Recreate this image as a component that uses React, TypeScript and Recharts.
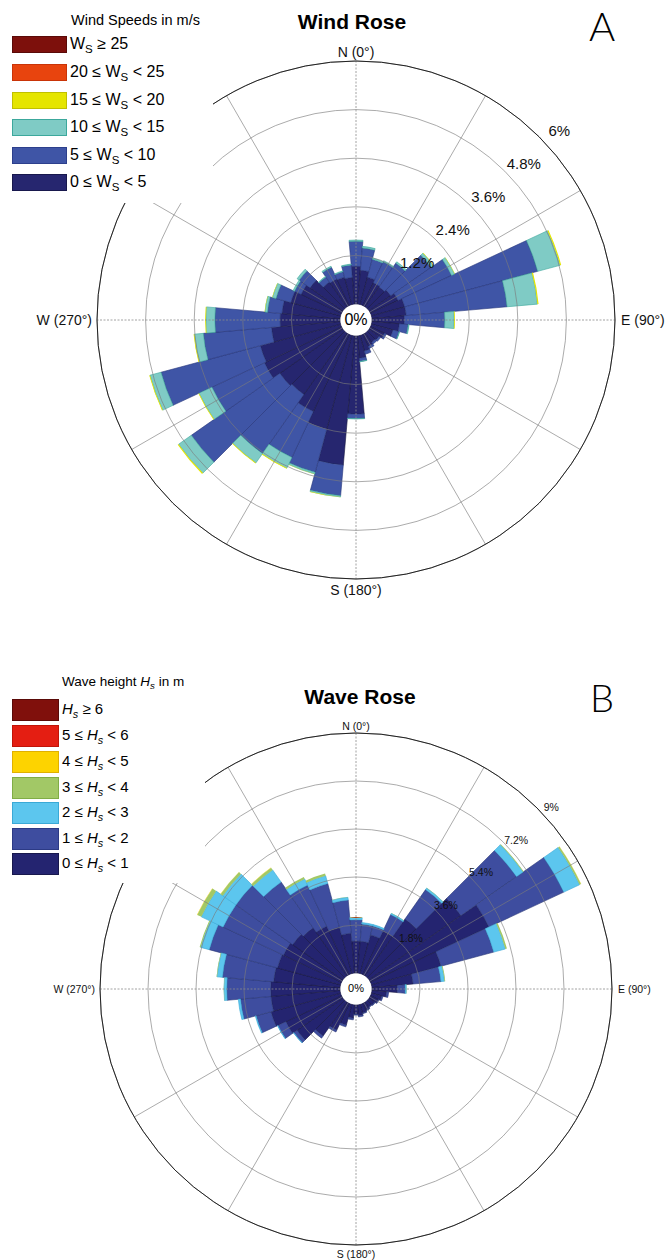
import React from 'react';
import { RadialBarChart, RadialBar, PolarAngleAxis, PolarRadiusAxis, PolarGrid, Cell } from 'recharts';

// sector centres, degrees clockwise from north
const DIRECTIONS = [0, 10, 20, 30, 40, 50, 60, 70, 80, 90, 100, 110, 120, 130, 140, 150, 160, 170,
  180, 190, 200, 210, 220, 230, 240, 250, 260, 270, 280, 290, 300, 310, 320, 330, 340, 350];

// wind rose, % of records per sector and speed class
const WIND_0_5 = [0.93, 0.84, 0.70, 0.62, 0.60, 0.65, 0.75, 0.85, 0.85, 0.80, 0.68, 0.55, 0.38, 0.30, 0.28, 0.32, 0.40, 0.55,
  1.93, 3.20, 2.40, 2.10, 1.85, 1.90, 2.10, 2.05, 1.70, 1.48, 1.44, 1.27, 1.10, 0.99, 0.75, 0.72, 0.70, 0.66];
const WIND_5_10 = [0.62, 0.55, 0.46, 0.57, 0.72, 1.22, 1.46, 3.40, 2.50, 1.00, 0.22, 0.16, 0.05, 0.05, 0.05, 0.06, 0.08, 0.08,
  0.11, 0.76, 1.10, 1.25, 1.78, 2.67, 1.43, 2.54, 1.69, 1.61, 0.36, 0.38, 0.18, 0.33, 0.15, 0.32, 0.14, 0.31];
const WIND_10_15 = [0.03, 0.04, 0.03, 0.03, 0.04, 0.07, 0.08, 0.57, 0.75, 0.23, 0.02, 0.01, 0, 0, 0, 0, 0, 0.01,
  0.01, 0.03, 0.04, 0.29, 0.28, 0.38, 0.35, 0.28, 0.22, 0.22, 0.06, 0.09, 0.04, 0.06, 0.02, 0.03, 0.02, 0.02];
const WIND_15_20 = [0, 0, 0, 0, 0, 0.01, 0.01, 0.03, 0.03, 0.02, 0, 0, 0, 0, 0, 0, 0, 0,
  0, 0.01, 0.01, 0.02, 0.02, 0.03, 0.02, 0.02, 0.02, 0.02, 0.01, 0.01, 0, 0, 0, 0, 0, 0];
const WIND_20_25 = [0, 0, 0, 0, 0, 0, 0, 0, 0, 0, 0, 0, 0, 0, 0, 0, 0, 0,
  0, 0, 0, 0, 0, 0, 0, 0, 0, 0, 0, 0, 0, 0, 0, 0, 0, 0];
const WIND_25_UP = [0, 0, 0, 0, 0, 0, 0, 0, 0, 0, 0, 0, 0, 0, 0, 0, 0, 0,
  0, 0, 0, 0, 0, 0, 0, 0, 0, 0, 0, 0, 0, 0, 0, 0, 0, 0];

// wave rose, % of records per sector and height class
const WAVE_0_1 = [1.20, 1.20, 1.50, 1.80, 2.60, 4.20, 4.90, 2.70, 1.55, 0.95, 0.55, 0.40, 0.32, 0.25, 0.22, 0.28, 0.33, 0.40,
  0.35, 0.50, 0.80, 1.10, 1.55, 2.10, 2.30, 2.70, 2.60, 2.60, 2.50, 2.45, 2.40, 2.30, 2.20, 2.00, 1.80, 1.50];
const WAVE_1_2 = [0.80, 0.65, 0.35, 0.68, 1.35, 2.55, 3.10, 2.05, 1.05, 0.30, 0.08, 0.05, 0.03, 0.03, 0.03, 0.02, 0.03, 0.05,
  0.03, 0.06, 0.07, 0.08, 0.10, 0.15, 0.33, 0.58, 1.15, 1.65, 1.93, 2.65, 2.50, 2.60, 2.10, 1.70, 1.70, 1.25];
const WAVE_2_3 = [0.08, 0.05, 0.05, 0.05, 0.07, 0.30, 0.65, 0.45, 0.13, 0.04, 0, 0, 0, 0, 0, 0, 0, 0,
  0, 0, 0, 0, 0, 0.01, 0.02, 0.03, 0.08, 0.10, 0.20, 0.33, 0.90, 0.60, 0.55, 0.25, 0.30, 0.10];
const WAVE_3_4 = [0.02, 0, 0, 0.01, 0.01, 0.03, 0.06, 0.06, 0.03, 0.01, 0, 0, 0, 0, 0, 0, 0, 0,
  0, 0, 0, 0, 0, 0, 0, 0, 0, 0.01, 0.02, 0.04, 0.17, 0.10, 0.10, 0.08, 0.08, 0.01];
const WAVE_4_5 = [0, 0, 0, 0, 0, 0, 0.01, 0, 0, 0, 0, 0, 0, 0, 0, 0, 0, 0,
  0, 0, 0, 0, 0, 0, 0, 0, 0, 0, 0, 0, 0.01, 0.01, 0.01, 0, 0, 0];
const WAVE_5_6 = [0, 0, 0, 0, 0, 0, 0, 0, 0, 0, 0, 0, 0, 0, 0, 0, 0, 0,
  0, 0, 0, 0, 0, 0, 0, 0, 0, 0, 0, 0, 0, 0, 0, 0, 0, 0];
const WAVE_6_UP = [0, 0, 0, 0, 0, 0, 0, 0, 0, 0, 0, 0, 0, 0, 0, 0, 0, 0,
  0, 0, 0, 0, 0, 0, 0, 0, 0, 0, 0, 0, 0, 0, 0, 0, 0, 0];

const WIND_TICKS = [1.2, 2.4, 3.6, 4.8, 6];
const WAVE_TICKS = [1.8, 3.6, 5.4, 7.2, 9];

const SPOKES = [30, 60, 120, 150, 210, 240, 300, 330];
const CARDINALS = [0, 90, 180, 270];
const CARDINAL_LABELS: Record<number, string> = { 0: 'N (0°)', 90: 'E (90°)', 180: 'S (180°)', 270: 'W (270°)' };

const FONT = '"Liberation Sans", Arial, Helvetica, sans-serif';
const CX = 356;
const HOLE = 16;
const RING_ANGLE = 43; // recharts degrees, i.e. 47° compass
// first band is drawn from startAngle counter-clockwise, so start half a sector east of north
const START = 85;
const END = START - 360;

const windSeries = [
  { key: 'w0', values: WIND_0_5, color: '#26266f', stroke: '#15153f' },
  { key: 'w1', values: WIND_5_10, color: '#3f55a6', stroke: '#26357a' },
  { key: 'w2', values: WIND_10_15, color: '#7fcbc5', stroke: '#3ca89c' },
  { key: 'w3', values: WIND_15_20, color: '#e5e500', stroke: 'none' },
  { key: 'w4', values: WIND_20_25, color: '#e8440e', stroke: 'none' },
  { key: 'w5', values: WIND_25_UP, color: '#7d100c', stroke: 'none' },
];

const waveSeries = [
  { key: 'h0', values: WAVE_0_1, color: '#242470', stroke: '#151540' },
  { key: 'h1', values: WAVE_1_2, color: '#3e4d9f', stroke: '#283675' },
  { key: 'h2', values: WAVE_2_3, color: '#5cc6ee', stroke: '#3aa9d6' },
  { key: 'h3', values: WAVE_3_4, color: '#a2c866', stroke: 'none' },
  { key: 'h4', values: WAVE_4_5, color: '#fdd300', stroke: 'none' },
  { key: 'h5', values: WAVE_5_6, color: '#e41e12', stroke: 'none' },
  { key: 'h6', values: WAVE_6_UP, color: '#7e100d', stroke: 'none' },
];

const buildRows = (series: typeof windSeries) =>
  DIRECTIONS.map((dir, i) => {
    const row: Record<string, number> = { dir };
    series.forEach((s) => { row[s.key] = s.values[i]; });
    return row;
  });

const windData = buildRows(windSeries);
const waveData = buildRows(waveSeries);

const AngleTick = (props: any) => {
  const { cx, cy, radius, payload, fs } = props;
  const v = payload.value;
  const label = CARDINAL_LABELS[v];
  if (!label) return null;
  const a = ((90 - v) * Math.PI) / 180;
  let x = cx + radius * Math.cos(a);
  let y = cy - radius * Math.sin(a);
  let anchor = 'middle';
  if (v === 0) y -= fs * 0.5 + 2;
  if (v === 180) y += fs * 0.5 + 4;
  if (v === 90) { anchor = 'start'; x += 6; }
  if (v === 270) { anchor = 'end'; x -= 5; }
  return (
    <text x={x} y={y} textAnchor={anchor} dominantBaseline="central" fontSize={fs} fontFamily={FONT} fill="#111">
      {label}
    </text>
  );
};

const RingTick = (props: any) => {
  const { x, y, payload, fs, off } = props;
  const a = (RING_ANGLE * Math.PI) / 180;
  return (
    <text x={x + off * Math.cos(a)} y={y - off * Math.sin(a)} textAnchor="middle" dominantBaseline="central"
      fontSize={fs} fontFamily={FONT} fill="#111">
      {`${payload.value}%`}
    </text>
  );
};

interface RoseProps {
  data: Record<string, number>[];
  series: typeof windSeries;
  ticks: number[];
  max: number;
  cy: number;
  radius: number;
  height: number;
  ringFont: number;
  ringOffset: number;
  cardFont: number;
}

const chartFrame = (p: RoseProps) => ({
  width: 671,
  height: p.height,
  data: p.data,
  cx: CX,
  cy: p.cy,
  innerRadius: HOLE,
  outerRadius: p.radius,
  startAngle: START,
  endAngle: END,
  layout: 'centric' as const,
  barCategoryGap: 0,
  margin: { top: 0, right: 0, bottom: 0, left: 0 },
});

// bars underneath, grid and labels in a second chart laid on top (the rings show across the bars)
const Rose: React.FC<RoseProps> = (p) => (
  <div style={{ position: 'relative', width: 671, height: p.height }}>
    <div style={{ position: 'absolute', left: 0, top: 0 }}>
      <RadialBarChart {...chartFrame(p)}>
        <PolarAngleAxis type="category" dataKey="dir" axisLine={false} tickLine={false} tick={false} />
        <PolarRadiusAxis type="number" domain={[0, p.max]} axisLine={false} tickLine={false} tick={false} />
        {p.series.map((s) => (
          <RadialBar key={s.key} dataKey={s.key} stackId="rose" fill={s.color} isAnimationActive={false}>
            {s.values.map((v, i) => (
              <Cell key={i} fill={s.color} stroke={v > 0 ? s.stroke : 'none'} strokeWidth={0.6} />
            ))}
          </RadialBar>
        ))}
      </RadialBarChart>
    </div>
    <div style={{ position: 'absolute', left: 0, top: 0 }}>
      <RadialBarChart {...chartFrame(p)}>
        {/* invisible series so the radius axis gets its scale in this layer */}
        <RadialBar dataKey={p.series[0].key} fill="none" stroke="none" isAnimationActive={false} />
        <PolarGrid gridType="circle" radialLines={false} stroke="#7a7a7a" strokeWidth={0.8} strokeOpacity={0.8} />
        <PolarGrid gridType="circle" polarAngles={SPOKES.map((c) => 90 - c)} polarRadius={[]} stroke="#7a7a7a"
          strokeWidth={0.8} strokeOpacity={0.8} />
        <PolarGrid gridType="circle" polarAngles={CARDINALS.map((c) => 90 - c)} polarRadius={[]} stroke="#8a8a8a"
          strokeWidth={0.8} strokeDasharray="2 1.5" />
        <PolarAngleAxis type="category" dataKey="dir" axisLineType="circle" axisLine={{ stroke: '#222', strokeWidth: 1 }}
          tickLine={false} tickSize={0} tick={(t: any) => <AngleTick {...t} fs={p.cardFont} />} />
        <PolarRadiusAxis type="number" domain={[0, p.max]} ticks={p.ticks} angle={RING_ANGLE} axisLine={false}
          tickLine={false} tick={(t: any) => <RingTick {...t} fs={p.ringFont} off={p.ringOffset} />} />
      </RadialBarChart>
    </div>
  </div>
);

const abs = (left: number, top: number, extra: React.CSSProperties = {}): React.CSSProperties => ({
  position: 'absolute', left, top, ...extra,
});

const windLegend = [
  { color: '#7d100c', border: '#5a0a08', label: <>W<sub>S</sub> ≥ 25</> },
  { color: '#e8440e', border: '#c93408', label: <>20 ≤ W<sub>S</sub> &lt; 25</> },
  { color: '#e5e500', border: '#c0c000', label: <>15 ≤ W<sub>S</sub> &lt; 20</> },
  { color: '#7fcbc5', border: '#3ca89c', label: <>10 ≤ W<sub>S</sub> &lt; 15</> },
  { color: '#3f55a6', border: '#2c3f8c', label: <>5 ≤ W<sub>S</sub> &lt; 10</> },
  { color: '#26266f', border: '#18184d', label: <>0 ≤ W<sub>S</sub> &lt; 5</> },
];
const WIND_ROWS = [36, 64, 92, 119, 147, 174];

const Hs = () => <><i>H</i><sub><i>s</i></sub></>;
const waveLegend = [
  { color: '#80100c', border: '#5a0a08', label: <><Hs /> ≥ 6</> },
  { color: '#e41e12', border: '#c01408', label: <>5 ≤ <Hs /> &lt; 6</> },
  { color: '#fdd300', border: '#e0b000', label: <>4 ≤ <Hs /> &lt; 5</> },
  { color: '#a2c866', border: '#80ad45', label: <>3 ≤ <Hs /> &lt; 4</> },
  { color: '#5cc6ee', border: '#3aa9d6', label: <>2 ≤ <Hs /> &lt; 3</> },
  { color: '#3e4d9f', border: '#2c3a85', label: <>1 ≤ <Hs /> &lt; 2</> },
  { color: '#242470', border: '#18184d', label: <>0 ≤ <Hs /> &lt; 1</> },
];
const WAVE_ROWS = [699, 725, 751, 777, 802, 828, 853];

const subStyle = `
  .lg sub { font-size: 0.72em; vertical-align: -0.35em; line-height: 0; }
`;

export default function App() {
  const BOTTOM_TOP = 640;
  return (
    <div style={{ position: 'absolute', left: 0, top: 0, width: 671, height: 1260, background: '#fff', fontFamily: FONT, overflow: 'hidden' }}>
      <style>{subStyle}</style>
      <div style={abs(0, 0)}>
        <Rose data={windData} series={windSeries} ticks={WIND_TICKS} max={6} cy={320} radius={259} height={640}
          ringFont={15} ringOffset={19} cardFont={14} />
      </div>
      <div style={abs(0, BOTTOM_TOP)}>
        <Rose data={waveData} series={waveSeries} ticks={WAVE_TICKS} max={9} cy={989 - BOTTOM_TOP} radius={256} height={620}
          ringFont={10.5} ringOffset={11} cardFont={10.5} />
      </div>

      {/* centre labels */}
      <div style={abs(CX - 20, 310, { width: 40, textAlign: 'center', fontSize: 16, lineHeight: '20px' })}>0%</div>
      <div style={abs(CX - 20, 981, { width: 40, textAlign: 'center', fontSize: 11, lineHeight: '14px' })}>0%</div>

      {/* titles */}
      <div style={abs(252, 10, { width: 200, textAlign: 'center', fontSize: 21, fontWeight: 700 })}>Wind Rose</div>
      <div style={abs(260, 685, { width: 200, textAlign: 'center', fontSize: 21, fontWeight: 700 })}>Wave Rose</div>
      <div style={abs(589, 4, { fontSize: 40, fontFamily: 'Lato, sans-serif', fontWeight: 300, lineHeight: '44px' })}>A</div>
      <div style={abs(590, 675, { fontSize: 38, fontFamily: 'Lato, sans-serif', fontWeight: 300, lineHeight: '44px' })}>B</div>

      {/* wind legend */}
      <div className="lg" style={abs(0, 0, { width: 213, height: 203, background: '#fff' })}>
        <div style={abs(71, 12, { fontSize: 14.5, whiteSpace: 'nowrap' })}>Wind Speeds in m/s</div>
        {windLegend.map((r, i) => (
          <React.Fragment key={i}>
            <div style={abs(12, WIND_ROWS[i], { width: 53, height: 15, background: r.color, border: `1px solid ${r.border}` })} />
            <div style={abs(70, WIND_ROWS[i] - 2, { fontSize: 16, whiteSpace: 'nowrap', lineHeight: '20px' })}>{r.label}</div>
          </React.Fragment>
        ))}
      </div>

      {/* wave legend */}
      <div className="lg" style={abs(0, 665, { width: 205, height: 218, background: '#fff' })}>
        <div style={abs(62, 9, { fontSize: 13.5, whiteSpace: 'nowrap' })}>Wave height <Hs /> in m</div>
        {waveLegend.map((r, i) => (
          <React.Fragment key={i}>
            <div style={abs(12, WAVE_ROWS[i] - 665, { width: 45, height: 20, background: r.color, border: `1px solid ${r.border}` })} />
            <div style={abs(62, WAVE_ROWS[i] - 665, { fontSize: 15, whiteSpace: 'nowrap', lineHeight: '20px' })}>{r.label}</div>
          </React.Fragment>
        ))}
      </div>
    </div>
  );
}
